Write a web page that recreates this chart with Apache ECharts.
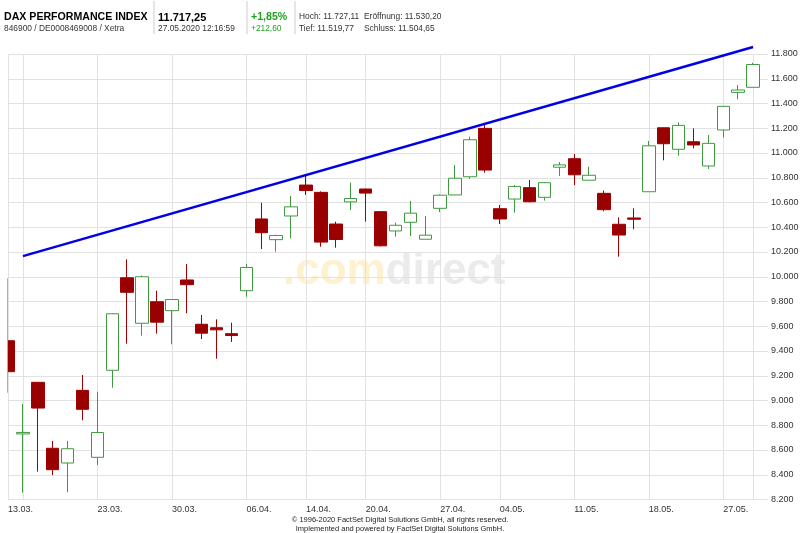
<!DOCTYPE html>
<html><head><meta charset="utf-8">
<script src="https://cdn.jsdelivr.net/npm/echarts@6/dist/echarts.min.js"></script>
<style>html,body{margin:0;padding:0;background:#fff}#c{width:800px;height:533px}</style>
</head><body><div id="c"></div>
<script>
const dates = ['13.03.','16.03.','17.03.','18.03.','19.03.','20.03.','23.03.','24.03.','25.03.','26.03.','27.03.','30.03.','31.03.','01.04.','02.04.','03.04.','06.04.','07.04.','08.04.','09.04.','14.04.','15.04.','16.04.','17.04.','20.04.','21.04.','22.04.','23.04.','24.04.','27.04.','28.04.','29.04.','30.04.','04.05.','05.05.','06.05.','07.05.','08.05.','11.05.','12.05.','13.05.','14.05.','15.05.','18.05.','19.05.','20.05.','21.05.','22.05.','25.05.','26.05.','27.05.'];
const opens  = [9483,8730,9147,8614,8495,9082,8541,9244,9992,9624,9798,9726,9974,9616,9588,9540,9887,10467,10300,10491,10741,10682,10426,10605,10709,10526,10370,10440,10303,10553,10661,10808,11199,10550,10628,10720,10642,10885,10954,10780,10674,10424,10475,10687,11204,11030,11091,10895,11186,11490,11531];
const closes = [9233,8742,8939,8441,8610,8929,8741,9701,9874,10000,9633,9816,9936,9544,9571,9525,10075,10356,10333,10565,10697,10280,10301,10632,10676,10250,10416,10514,10336,10659,10796,11107,10862,10467,10730,10606,10760,10904,10824,10820,10542,10337,10465,11058,11075,11223,11065,11078,11377,11509,11715];
const lows   = [9063,8255,8425,8398,8258,8840,8479,9103,9459,9524,9540,9454,9705,9497,9338,9473,9839,10224,10203,10311,10661,10243,10235,10539,10445,10245,10324,10328,10303,10522,10661,10792,10841,10426,10518,10602,10615,10814,10741,10780,10529,10162,10384,10687,10941,10978,11038,10871,11124,11434,11531];
const highs  = [9987,8972,9150,8673,8673,9206,9071,9705,10141,10010,9887,9820,10103,9691,9656,9629,10103,10598,10340,10653,10814,10690,10445,10760,10712,10531,10437,10612,10491,10666,10903,11132,11234,10580,10741,10782,10766,10927,10992,10889,10696,10480,10553,11097,11204,11248,11199,11146,11380,11549,11729];
const trendDates = ['16.03.','27.05.'];
const trendValues = [10167,11857];
const tickLabelIdx = [0,6,11,16,20,24,29,33,38,43,48];
const tickLabelText = ['13.03.','23.03.','30.03.','06.04.','14.04.','20.04.','27.04.','04.05.','11.05.','18.05.','27.05.'];
const gridLineIdx = [0,1,6,11,16,20,24,29,33,38,43,48,50];
const yMin = 8200, yMax = 11800, yStep = 200;

const cats = dates.concat(['']);
const candleData = dates.map((d,i)=>[opens[i],closes[i],lows[i],highs[i]]);
const fmtNum = v => String(v).replace(/\B(?=(\d{3})+(?!\d))/g,'.');
const chart = echarts.init(document.getElementById('c'));
const F = 'Liberation Sans, Arial, sans-serif';
const NF = 'Liberation Sans Narrow, Arial Narrow, Liberation Sans, sans-serif';
const headerTexts = [
  {x:4,y:12,t:'DAX PERFORMANCE INDEX',f:'bold 10.6px '+F,c:'#000'},
  {x:4,y:25,t:'846900 / DE0008469008 / Xetra',f:'8.4px '+F,c:'#333'},
  {x:158,y:12,t:'11.717,25',f:'bold 11px '+F,c:'#000'},
  {x:158,y:25,t:'27.05.2020 12:16:59',f:'8.4px '+F,c:'#333'},
  {x:251,y:12,t:'+1,85%',f:'bold 10.6px '+F,c:'#22a022'},
  {x:251,y:25,t:'+212,60',f:'8.4px '+F,c:'#22a022'},
  {x:299,y:13,t:'Hoch: 11.727,11',f:'8.4px '+F,c:'#333'},
  {x:364,y:13,t:'Eröffnung: 11.530,20',f:'8.4px '+F,c:'#333'},
  {x:299,y:25,t:'Tief: 11.519,77',f:'8.4px '+F,c:'#333'},
  {x:364,y:25,t:'Schluss: 11.504,65',f:'8.4px '+F,c:'#333'}
];
const graphics = headerTexts.map(h=>({type:'text',left:h.x,top:h.y,style:{text:h.t,font:h.f,fill:h.c,textVerticalAlign:'middle'},silent:true}));
[154,247,295].forEach(x=>graphics.push({type:'line',shape:{x1:x,y1:1,x2:x,y2:34},style:{stroke:'#cccccc',lineWidth:1}}));
graphics.push({type:'text',left:'center',top:515,style:{text:'© 1996-2020 FactSet Digital Solutions GmbH, all rights reserved.\nImplemented and powered by FactSet Digital Solutions GmbH.',font:'7.5px '+NF,fill:'#222',textAlign:'center',lineHeight:9}});
graphics.push({type:'text',left:283,top:250,z:-10,style:{text:'{a|.com}{b|direct}',rich:{a:{font:'bold 44px '+F,fill:'#fdf1cf'},b:{font:'bold 44px '+F,fill:'#ebebeb'}}}});
// white mask left of the plot area (the plot clips the first candle)
graphics.push({type:'rect',shape:{x:0,y:44,width:7.6,height:460},style:{fill:'#ffffff'},z:100,silent:true});

chart.setOption({
  animation:false,
  graphic:graphics,
  grid:{left:8,right:32,top:54,bottom:33.5,containLabel:false,outerBoundsMode:'none'},
  xAxis:{type:'category',data:cats,boundaryGap:false,
    axisLine:{show:false},axisTick:{show:false},
    axisLabel:{interval:0,margin:6,fontSize:9,fontFamily:NF,color:'#333',align:'left',
      formatter:(v,i)=>{const k=tickLabelIdx.indexOf(i);return k>=0?tickLabelText[k]:'';}},
    splitLine:{show:true,interval:(i)=>gridLineIdx.indexOf(i)>=0,lineStyle:{color:'#e2e2e2',width:1}}},
  yAxis:{type:'value',position:'right',min:yMin,max:yMax,interval:yStep,scale:true,
    axisLine:{show:false},axisTick:{show:false},
    axisLabel:{margin:3,fontSize:9,fontFamily:F,color:'#333',formatter:v=>fmtNum(v)},
    splitLine:{lineStyle:{color:'#e2e2e2',width:1}}},
  series:[
    {type:'candlestick',data:candleData,barWidth:13,clip:true,
     itemStyle:{color:'#ffffff',color0:'#990000',borderColor:'#3f9a3f',borderColor0:'#a00000',borderWidth:1}},
    {type:'line',data:trendDates.map((d,i)=>[d,trendValues[i]]),symbol:'none',clip:false,
     lineStyle:{color:'#0000e6',width:2.5},z:5}
  ]
});
</script></body></html>
